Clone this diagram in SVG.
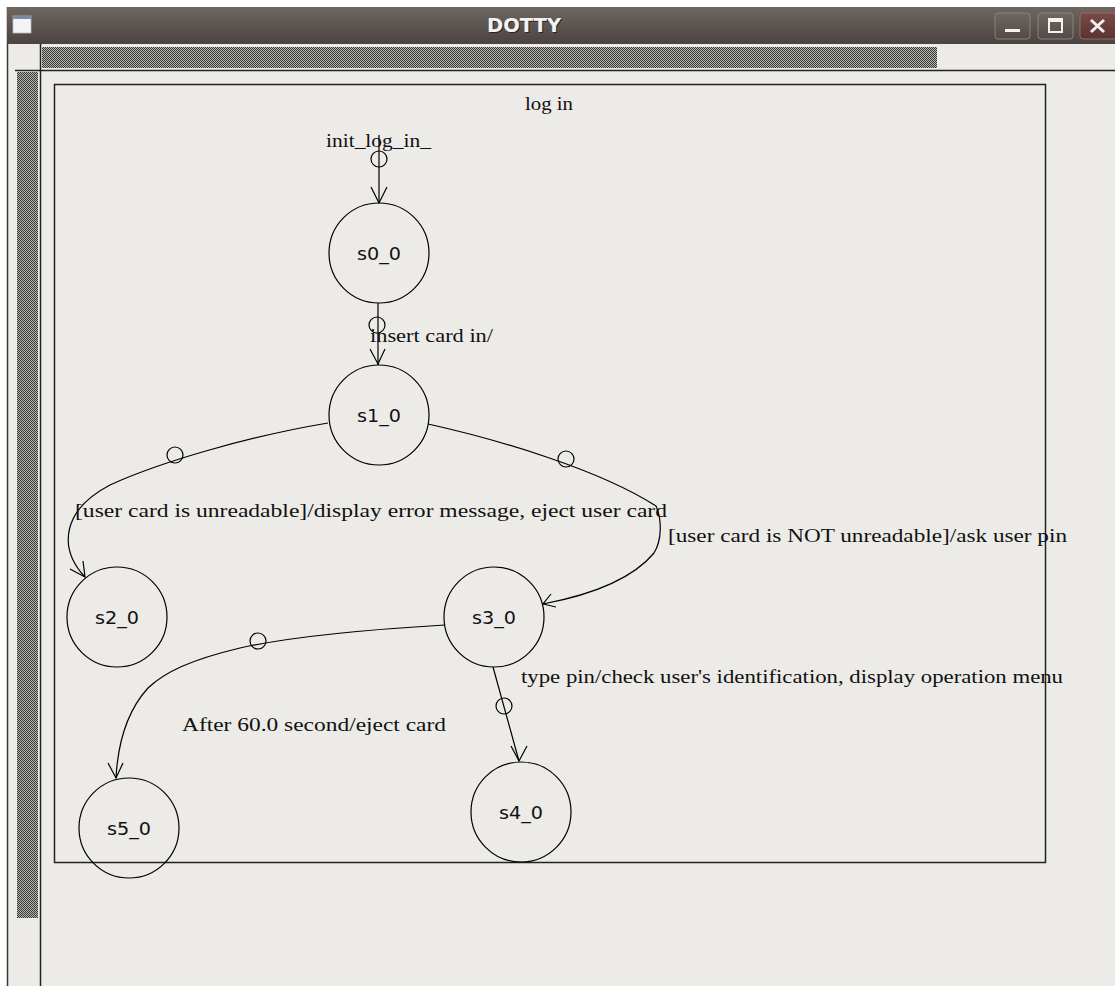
<svg xmlns="http://www.w3.org/2000/svg" width="1115" height="986" viewBox="0 0 1115 986">
<style>
.st{fill:none;stroke:#000;stroke-width:1.2}
.lbl{font-family:"Liberation Serif","DejaVu Serif",serif;font-size:19px;fill:#111}
.nl{font-family:"DejaVu Sans","Liberation Sans",sans-serif;font-size:18px;fill:#111;text-anchor:middle}
.edge{fill:none;stroke:#000;stroke-width:1.2}
.dot{fill:none;stroke:#000;stroke-width:1.2}
</style>
<defs>
<linearGradient id="tb" x1="0" y1="0" x2="0" y2="1">
<stop offset="0" stop-color="#6f6661"/>
<stop offset="1" stop-color="#4a4340"/>
</linearGradient>
<pattern id="hatch" width="2" height="2" patternUnits="userSpaceOnUse">
<rect width="2" height="2" fill="#b5b3b0"/>
<rect width="1" height="1" fill="#3a3a3a"/>
<rect x="1" y="1" width="1" height="1" fill="#3a3a3a"/>
</pattern>
<linearGradient id="btn" x1="0" y1="0" x2="0" y2="1">
<stop offset="0" stop-color="#6e6661"/>
<stop offset="1" stop-color="#524a46"/>
</linearGradient>
<linearGradient id="btnx" x1="0" y1="0" x2="0" y2="1">
<stop offset="0" stop-color="#7a4a45"/>
<stop offset="1" stop-color="#5a3431"/>
</linearGradient>
</defs>
<!-- window chrome -->
<rect x="0" y="0" width="1115" height="986" fill="#ffffff"/>
<rect x="7" y="7" width="1108" height="979" fill="#edebe7"/>
<line x1="7.5" y1="7" x2="7.5" y2="986" stroke="#3a3a3a" stroke-width="1.5"/>
<rect x="7" y="7" width="1108" height="37" fill="url(#tb)"/>
<rect x="13" y="16" width="18" height="17" fill="#f4f4f4" stroke="#bbb" stroke-width="0.8"/>
<rect x="13" y="16" width="18" height="3" fill="#7a8aa8"/>
<text x="525" y="33" text-anchor="middle" font-family="'DejaVu Sans Condensed','DejaVu Sans',sans-serif" font-weight="bold" font-size="19" fill="#2a2522" textLength="74" lengthAdjust="spacingAndGlyphs">DOTTY</text>
<text x="524" y="32" text-anchor="middle" font-family="'DejaVu Sans Condensed','DejaVu Sans',sans-serif" font-weight="bold" font-size="19" fill="#f2f2f2" textLength="74" lengthAdjust="spacingAndGlyphs">DOTTY</text>
<rect x="995" y="13" width="35" height="26" rx="3" fill="url(#btn)" stroke="#8a827d" stroke-width="1"/>
<rect x="1005" y="29" width="15" height="3" fill="#f2f2f2"/>
<rect x="1038" y="13" width="35" height="26" rx="3" fill="url(#btn)" stroke="#8a827d" stroke-width="1"/>
<rect x="1049" y="19" width="13" height="13" fill="none" stroke="#f2f2f2" stroke-width="2"/>
<rect x="1049" y="19" width="13" height="3" fill="#f2f2f2"/>
<rect x="1080" y="13" width="36" height="26" rx="3" fill="url(#btnx)" stroke="#9a6a65" stroke-width="1"/>
<path d="M1091,20 L1104,32 M1104,20 L1091,32" stroke="#f2f2f2" stroke-width="3"/>
<!-- scrollbars -->
<rect x="42" y="47" width="895" height="21" fill="url(#hatch)"/>
<rect x="17" y="72" width="21" height="846" fill="url(#hatch)"/>
<line x1="15" y1="70.5" x2="1115" y2="70.5" stroke="#222" stroke-width="1.5"/>
<line x1="40.5" y1="44" x2="40.5" y2="986" stroke="#222" stroke-width="1.5"/>
<!-- cluster frame -->
<g id="cluster_log_in">
<rect x="54.5" y="84.5" width="991" height="778" fill="none" stroke="#222" stroke-width="1.5"/>
<text class="lbl" x="525" y="110" textLength="48" lengthAdjust="spacingAndGlyphs">log in</text>
</g>
<!-- connectors -->
<g id="connectors">
<g id="e_init_s0">
<line class="edge" x1="379" y1="135" x2="379" y2="203"/>
<circle class="dot" cx="379" cy="159" r="8"/>
<path class="edge" d="M371,187 L379,203 L387,187"/>
<text class="lbl" x="326" y="147" textLength="105" lengthAdjust="spacingAndGlyphs">init_log_in_</text>
</g>
<g id="e_s0_s1">
<line class="edge" x1="378" y1="303" x2="378" y2="365"/>
<circle class="dot" cx="377" cy="325" r="8"/>
<path class="edge" d="M370,349 L378,364 L385,349"/>
<text class="lbl" x="370" y="342" textLength="123" lengthAdjust="spacingAndGlyphs">insert card in/</text>
</g>
<g id="e_s1_s2">
<path class="edge" d="M328,423 C250,436 160,462 110,485 C62,510 58,548 85,577"/>
<circle class="dot" cx="175" cy="455" r="8"/>
<path class="edge" d="M83,561 L85,577 L70,569"/>
<text class="lbl" x="75" y="517" textLength="592" lengthAdjust="spacingAndGlyphs">[user card is unreadable]/display error message, eject user card</text>
</g>
<g id="e_s1_s3">
<path class="edge" d="M428,424 C500,440 600,470 656,506 C662,520 662,540 654,553 C630,582 585,596 543,604"/>
<circle class="dot" cx="566" cy="459" r="8"/>
<path class="edge" d="M551,594 L543,604 L556,607"/>
<text class="lbl" x="668" y="542" textLength="399" lengthAdjust="spacingAndGlyphs">[user card is NOT unreadable]/ask user pin</text>
</g>
<g id="e_s3_s5">
<path class="edge" d="M445,625 C360,630 285,638 240,648 C190,660 165,672 148,688 C128,710 118,740 116,778"/>
<circle class="dot" cx="258" cy="641" r="8"/>
<path class="edge" d="M108,763 L116,778 L123,763"/>
<text class="lbl" x="182" y="731" textLength="264" lengthAdjust="spacingAndGlyphs">After 60.0 second/eject card</text>
</g>
<g id="e_s3_s4">
<line class="edge" x1="493" y1="667" x2="519" y2="761"/>
<circle class="dot" cx="504" cy="706" r="8"/>
<path class="edge" d="M511,746 L519,761 L527,746"/>
<text class="lbl" x="521" y="683" textLength="542" lengthAdjust="spacingAndGlyphs">type pin/check user's identification, display operation menu</text>
</g>
</g>
<!-- nodes -->
<g id="s0_0"><circle class="st" cx="379" cy="253" r="50"/><text class="nl" x="379" y="260" textLength="44" lengthAdjust="spacingAndGlyphs">s0_0</text></g>
<g id="s1_0"><circle class="st" cx="379" cy="415" r="50"/><text class="nl" x="379" y="422" textLength="44" lengthAdjust="spacingAndGlyphs">s1_0</text></g>
<g id="s2_0"><circle class="st" cx="117" cy="617" r="50"/><text class="nl" x="117" y="624" textLength="44" lengthAdjust="spacingAndGlyphs">s2_0</text></g>
<g id="s3_0"><circle class="st" cx="494" cy="617" r="50"/><text class="nl" x="494" y="624" textLength="44" lengthAdjust="spacingAndGlyphs">s3_0</text></g>
<g id="s4_0"><circle class="st" cx="521" cy="812" r="50"/><text class="nl" x="521" y="819" textLength="44" lengthAdjust="spacingAndGlyphs">s4_0</text></g>
<g id="s5_0"><circle class="st" cx="129" cy="828" r="50"/><text class="nl" x="129" y="835" textLength="44" lengthAdjust="spacingAndGlyphs">s5_0</text></g>
</svg>
